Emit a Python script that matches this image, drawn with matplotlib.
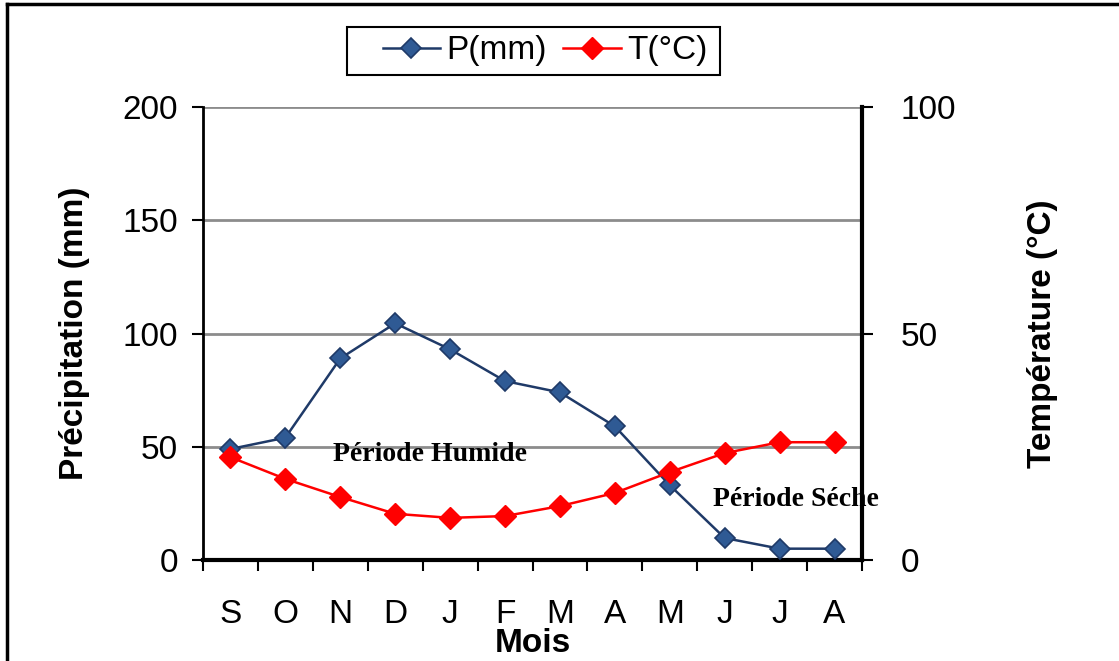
import matplotlib
matplotlib.use("Agg")
import matplotlib.pyplot as plt
from matplotlib.lines import Line2D
from matplotlib.patches import Rectangle
import numpy as np

months = ["S", "O", "N", "D", "J", "F", "M", "A", "M", "J", "J", "A"]
precip = [49, 54, 89, 104.5, 93, 79, 74, 59, 33, 9.7, 5, 5]
temp = [22.7, 17.9, 13.9, 10.2, 9.3, 9.7, 11.9, 14.8, 19.4, 23.6, 26, 26]

plt.rcParams['font.family'] = ['Liberation Sans', 'DejaVu Sans']

W, H = 1119, 661
fig = plt.figure(figsize=(W/100, H/100), dpi=100)
ax = fig.add_axes([203/W, 101/H, (862-203)/W, (560-107)/H])
ax2 = ax.twinx()

x = np.arange(len(months))
l1, = ax.plot(x, precip, color='#1F3A68', lw=1.8, marker='D', markersize=10,
              markerfacecolor='#2F5A94', markeredgecolor='#1F3A68', markeredgewidth=1.2,
              label='P(mm)', zorder=5, clip_on=False)
l2, = ax2.plot(x, temp, color='#FF0000', lw=1.8, marker='D', markersize=11,
               markerfacecolor='#FF0000', markeredgecolor='#FF0000',
               label='T(°C)', zorder=5, clip_on=False)

ax.set_xlim(-0.5, len(months) - 0.5)
ax.set_ylim(0, 200)
ax2.set_ylim(0, 100)
ax.set_yticks([0, 50, 100, 150, 200])
ax2.set_yticks([0, 50, 100])

ax.yaxis.grid(True, color='#8C8C8C', lw=2)
ax.set_axisbelow(True)

ax.set_xticks(x)
ax.set_xticklabels(months)
ax.set_xticks(np.arange(-0.5, len(months)), minor=True)
ax.tick_params(axis='x', which='major', length=0, pad=28, labelsize=24)
ax.tick_params(axis='x', which='minor', length=8, width=1.5, direction='out')
ax.tick_params(axis='y', length=8, width=1.5, direction='out', labelsize=24, pad=10)
ax2.tick_params(axis='y', length=8, width=1.5, direction='out', labelsize=24, pad=20)

for a in (ax, ax2):
    a.spines['top'].set_visible(False)
ax.spines['left'].set_linewidth(2)
ax.spines['bottom'].set_linewidth(3)
ax2.spines['right'].set_linewidth(3)
ax2.spines['left'].set_visible(False)
ax2.spines['bottom'].set_visible(False)

ax.set_ylabel('Précipitation (mm)', fontsize=24, fontweight='bold', labelpad=23)
ax2.set_ylabel('Température (°C)', fontsize=24, fontweight='bold', labelpad=51, rotation=90)
ax.set_xlabel('Mois', fontsize=24, fontweight='bold')
ax.xaxis.set_label_coords(0.5, -0.150)

serif = ['Liberation Serif', 'DejaVu Serif']
ax.text(1.87, 46.4, 'Période Humide', family=serif, fontweight='bold', fontsize=20,
        va='center', ha='left', zorder=6)
ax.text(8.79, 26.9, 'Période Séche', family=serif, fontweight='bold', fontsize=20,
        va='center', ha='left', zorder=6, clip_on=False)

leg = fig.legend(handles=[l1, l2], loc='center', bbox_to_anchor=(545/W, 1 - 51/H),
                 ncol=2, fontsize=24, frameon=False, handlelength=1.73,
                 columnspacing=0.5, handletextpad=0.18, borderpad=0)
fig.add_artist(Rectangle((347/W, 1 - 75/H), (720-347)/W, 48/H, transform=fig.transFigure,
                         fill=False, edgecolor='black', lw=1.5))

fig.add_artist(Line2D([7/W, 1], [1 - 4/H, 1 - 4/H], transform=fig.transFigure,
                      color='black', lw=2.5))
fig.add_artist(Line2D([7/W, 7/W], [0, 1 - 4/H], transform=fig.transFigure,
                      color='black', lw=2.5))

fig.savefig('out.png', dpi=100)
